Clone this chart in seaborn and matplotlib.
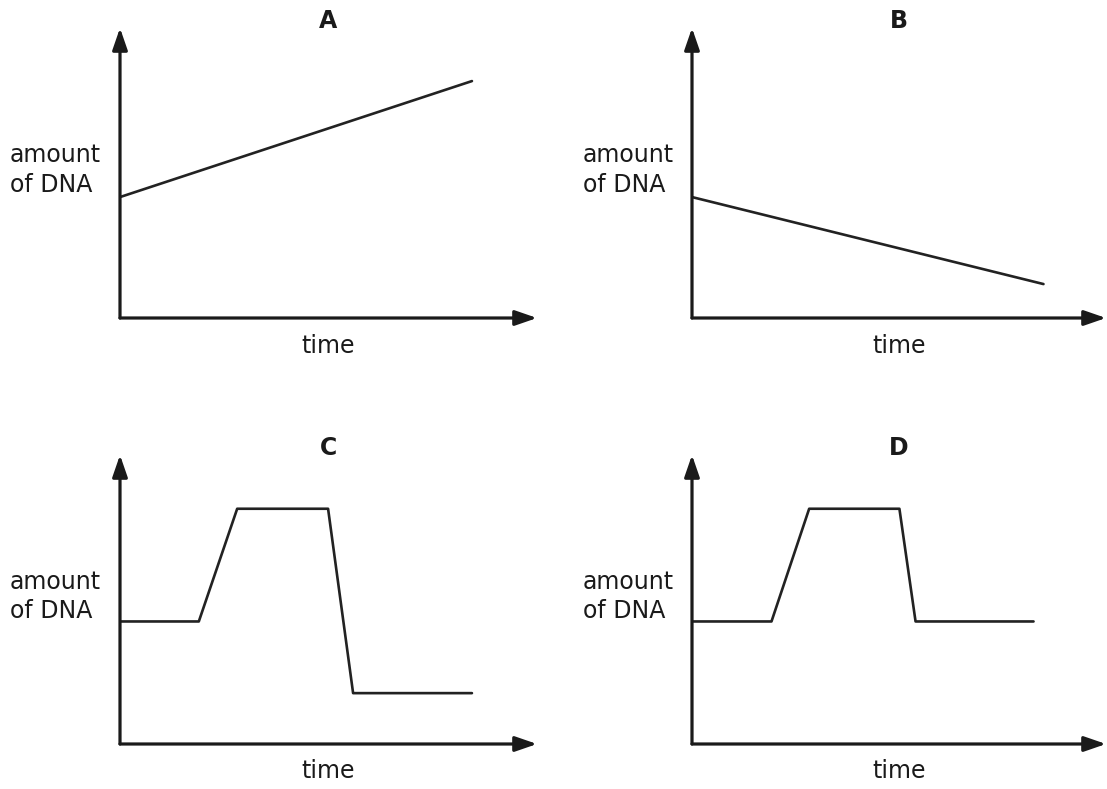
import matplotlib
matplotlib.use("Agg")
import matplotlib.pyplot as plt
import seaborn as sns
import pandas as pd

sns.set_style("white")
plt.rcParams['font.family'] = ['DejaVu Sans']

# panel data (arbitrary units)
panels = ["A", "B", "C", "D"]
time_A = [0, 8.44]
dna_A = [4.17, 8.17]
time_B = [0, 8.49]
dna_B = [4.17, 1.17]
time_C = [0, 1.89, 2.81, 4.99, 5.59, 8.44]
dna_C = [4.24, 4.24, 8.14, 8.14, 1.76, 1.76]
time_D = [0, 1.92, 2.83, 5.01, 5.40, 8.25]
dna_D = [4.24, 4.24, 8.14, 8.14, 4.24, 4.24]

series = {
    "A": (time_A, dna_A),
    "B": (time_B, dna_B),
    "C": (time_C, dna_C),
    "D": (time_D, dna_D),
}

W, H = 1107, 789
fig = plt.figure(figsize=(W / 100, H / 100), dpi=100)

# axes boxes in pixels: left, bottom(origin y), right(arrow tip x), top(arrow tip y)
boxes = {
    "A": (120, 318, 537, 28),
    "B": (692, 318, 1106, 28),
    "C": (120, 744, 537, 455),
    "D": (692, 744, 1106, 455),
}

for name in panels:
    l, b, r, t = boxes[name]
    ax = fig.add_axes([l / W, 1 - b / H, (r - l) / W, (b - t) / H])
    x, y = series[name]
    df = pd.DataFrame({"time": x, "amount": y})
    sns.lineplot(data=df, x="time", y="amount", ax=ax, color="#222222",
                 lw=1.9, sort=False, estimator=None)
    ax.set_xlim(0, 10)
    ax.set_ylim(0, 10)
    ax.set_xticks([])
    ax.set_yticks([])
    ax.set_xlabel("")
    ax.set_ylabel("")
    for s in ax.spines.values():
        s.set_visible(False)
    ax.patch.set_alpha(0)

    arrow = dict(arrowstyle="-|>,head_length=0.55,head_width=0.19",
                 mutation_scale=24, lw=2.3, color="#1a1a1a",
                 shrinkA=0, shrinkB=0)
    ax.annotate("", xy=(1, 0), xytext=(0, 0), xycoords="axes fraction",
                arrowprops=arrow, annotation_clip=False)
    ax.annotate("", xy=(0, 1), xytext=(0, 0), xycoords="axes fraction",
                arrowprops=arrow, annotation_clip=False)

    ax.text(0.5, 1.025, name, transform=ax.transAxes, ha="center", va="center",
            fontsize=17, fontweight="bold", color="#1a1a1a")
    ax.text(0.5, -0.095, "time", transform=ax.transAxes, ha="center",
            va="center", fontsize=17, color="#1a1a1a")
    ax.text(-0.264, 0.51, "amount\nof DNA", transform=ax.transAxes,
            ha="left", va="center", fontsize=17, linespacing=1.3,
            color="#1a1a1a")

fig.savefig("out.png", dpi=100)
